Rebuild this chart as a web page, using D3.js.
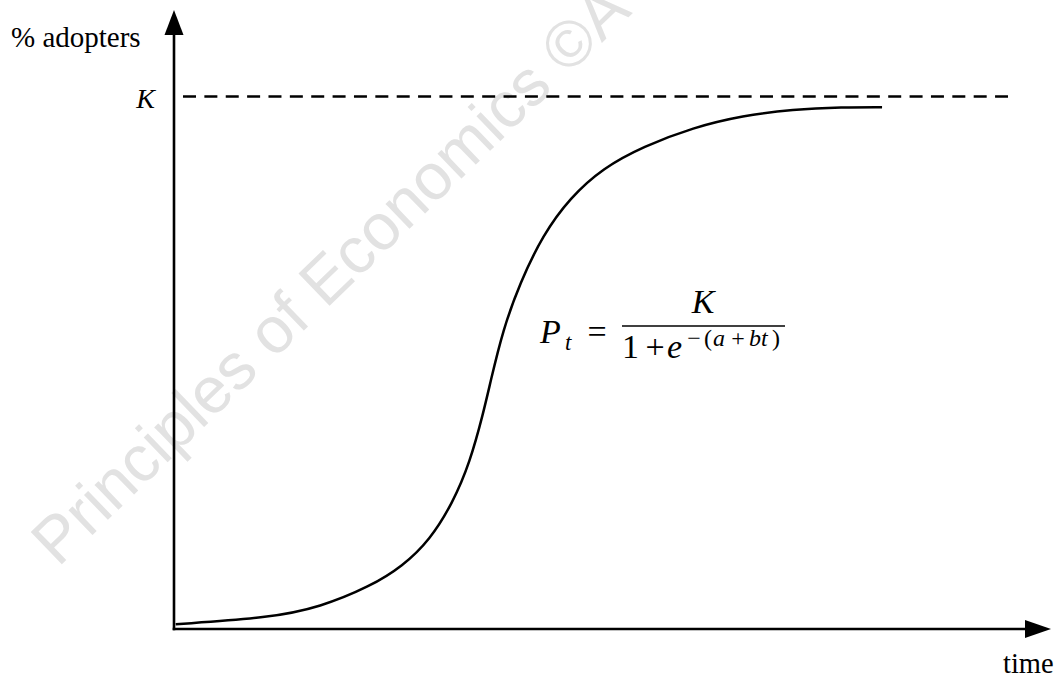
<!DOCTYPE html>
<html>
<head>
<meta charset="utf-8">
<script src="https://cdn.jsdelivr.net/npm/d3@7"></script>
<style>
  html, body { margin: 0; padding: 0; background: #fff; }
  svg { display: block; }
  .serif { font-family: "Liberation Serif", "DejaVu Serif", "Noto Serif", serif; }
  .wm { font-family: "Liberation Sans", Arial, "DejaVu Sans", sans-serif; }
</style>
</head>
<body>
<svg id="chart" width="1059" height="678"></svg>
<script>
// Diffusion of an innovation over time: share of adopters (percent of K)
const timeValues = [0.2, 11.3, 17.2, 23.1, 26.9, 30.1, 32.8, 34.8, 36.4, 37.2, 38.7,
                    40.7, 43.4, 46.6, 50.5, 55.2, 61.1, 66.9, 72.8, 78.7, 83.3];
const adopterValues = [0.9, 2.1, 4.1, 8.0, 11.8, 16.7, 23.7, 31.2, 40.6, 46.2, 56.2,
                       65.0, 74.0, 81.0, 86.6, 90.6, 94.2, 96.4, 97.6, 98.0, 98.0];
const saturationLevel = [100];          // K, the ceiling of adoption
const saturationLabels = ["K"];
const axisTitles = ["% adopters", "time"];

const svg = d3.select("#chart");

const x = d3.scaleLinear().domain([0, 100]).range([174, 1024]);
const y = d3.scaleLinear().domain([0, 100]).range([629, 96.5]);

// Faint watermark behind the plot
svg.append("text")
  .attr("class", "wm")
  .attr("transform", "translate(58,568) rotate(-44)")
  .attr("font-size", 65)
  .attr("fill", "#e2e2e2")
  .text("Principles of Economics \u00A9A");

// Saturation level K (dashed)
svg.append("line")
  .attr("x1", 183).attr("x2", 1008)
  .attr("y1", y(saturationLevel[0])).attr("y2", y(saturationLevel[0]))
  .attr("stroke", "#000").attr("stroke-width", 2.6)
  .attr("stroke-dasharray", "13,8.37");

// K label on the vertical axis
const yAxis = d3.axisLeft(y)
  .tickValues(saturationLevel)
  .tickFormat((d, i) => saturationLabels[i])
  .tickSize(0)
  .tickPadding(19);
const gy = svg.append("g").attr("transform", `translate(${x(0)},0)`).call(yAxis);
gy.attr("font-family", null);
gy.select(".domain").remove();
gy.selectAll("text")
  .attr("class", "serif")
  .attr("font-style", "italic")
  .attr("font-size", 28)
  .attr("fill", "#000")
  .attr("dy", "0.41em");

// Axes with arrowheads
const x0 = x(0), yBase = y(0);
svg.append("line")
  .attr("x1", x0).attr("x2", x0).attr("y1", yBase + 1.3).attr("y2", 30)
  .attr("stroke", "#000").attr("stroke-width", 2.6);
svg.append("path")
  .attr("d", `M${x0},10 L${x0 - 9.5},35 L${x0 + 9.5},35 Z`)
  .attr("fill", "#000");
svg.append("line")
  .attr("x1", x0 - 1.3).attr("x2", 1030).attr("y1", yBase).attr("y2", yBase)
  .attr("stroke", "#000").attr("stroke-width", 2.6);
svg.append("path")
  .attr("d", `M1051,${yBase} L1025,${yBase - 9} L1025,${yBase + 9} Z`)
  .attr("fill", "#000");

// Adoption curve
const pts = timeValues.map((t, i) => [t, adopterValues[i]]);
svg.append("path")
  .datum(pts)
  .attr("fill", "none")
  .attr("stroke", "#000")
  .attr("stroke-width", 2.5)
  .attr("d", d3.line().x(d => x(d[0])).y(d => y(d[1])).curve(d3.curveBasis));

// Axis titles
svg.append("text")
  .attr("class", "serif")
  .attr("x", 11).attr("y", 47)
  .attr("font-size", 29)
  .text(axisTitles[0]);
svg.append("text")
  .attr("class", "serif")
  .attr("x", 1003).attr("y", 673)
  .attr("font-size", 28.5)
  .text(axisTitles[1]);

// Logistic formula  P_t = K / (1 + e^{-(a+bt)})
const f = svg.append("g").attr("class", "serif").attr("fill", "#000");
const put = (tx, px, py, size, italic, anchor) =>
  f.append("text").attr("x", px).attr("y", py).attr("font-size", size)
   .attr("font-style", italic ? "italic" : "normal")
   .attr("text-anchor", anchor || "start").text(tx);

put("P", 540, 343, 34, true);
put("t", 565, 350, 23, true);
put("=", 597, 343, 34, false, "middle");
f.append("line").attr("x1", 622).attr("x2", 785).attr("y1", 326).attr("y2", 326)
  .attr("stroke", "#000").attr("stroke-width", 1.6);
put("K", 703, 313, 34, true, "middle");
put("1", 622, 358, 34, false);
put("+", 655, 358, 34, false, "middle");
put("e", 667, 358, 34, true);
put("\u2212", 694, 346, 24, false, "middle");
put("(", 704, 346, 24, false);
put("a", 713, 346, 24, true);
put("+", 738, 346, 24, false, "middle");
put("b", 749, 346, 24, true);
put("t", 761, 346, 24, true);
put(")", 772, 346, 24, false);
</script>
</body>
</html>
